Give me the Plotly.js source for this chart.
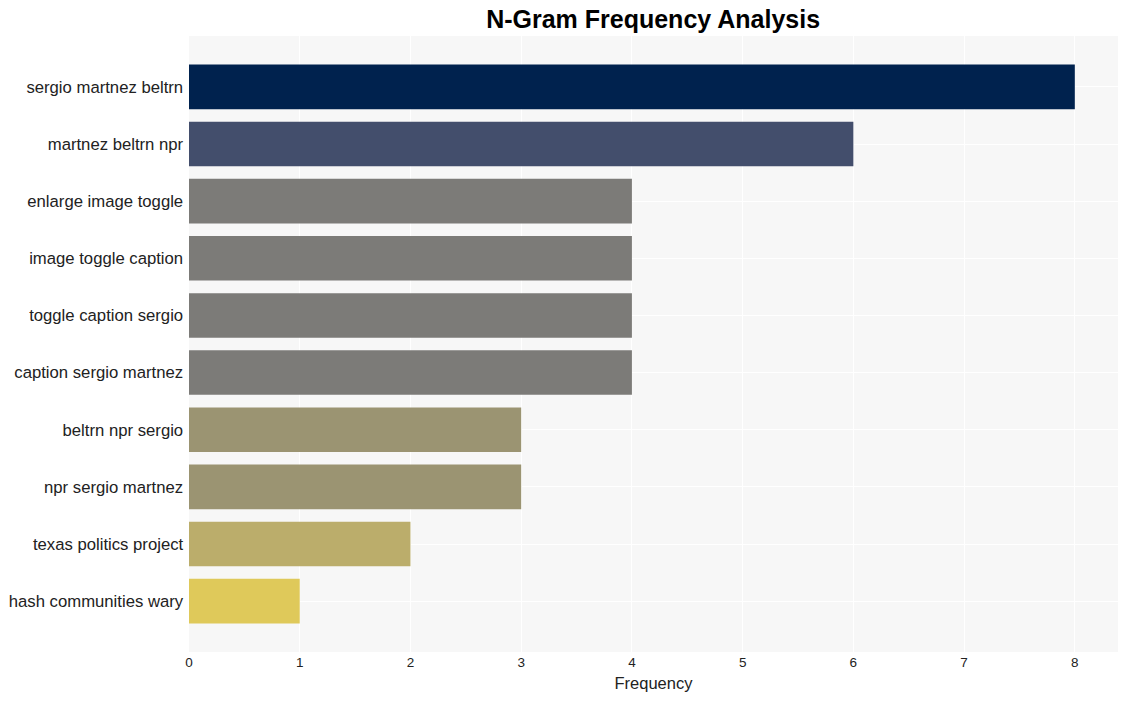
<!DOCTYPE html>
<html>
<head>
<meta charset="utf-8">
<script src="https://cdn.plot.ly/plotly-3.0.1.min.js"></script>
<style>html,body{margin:0;padding:0;background:#fff;}#chart{width:1128px;height:701px;}</style>
</head>
<body>
<div id="chart"></div>
<script>
const categories = [
  "sergio martnez beltrn",
  "martnez beltrn npr",
  "enlarge image toggle",
  "image toggle caption",
  "toggle caption sergio",
  "caption sergio martnez",
  "beltrn npr sergio",
  "npr sergio martnez",
  "texas politics project",
  "hash communities wary"
];
const frequencies = [8, 6, 4, 4, 4, 4, 3, 3, 2, 1];
const barColors = ["#00224e", "#434e6c", "#7c7b78", "#7c7b78", "#7c7b78", "#7c7b78", "#9b9472", "#9b9472", "#bbad6b", "#dfc95a"];
const xTicks = [0, 1, 2, 3, 4, 5, 6, 7, 8];

const trace = {
  type: "bar",
  orientation: "h",
  x: frequencies,
  y: categories,
  marker: {color: barColors},
  width: 0.78,
  hoverinfo: "x+y"
};

const layout = {
  width: 1128,
  height: 701,
  margin: {l: 189, r: 10, t: 36, b: 49},
  paper_bgcolor: "#ffffff",
  plot_bgcolor: "#f7f7f7",
  font: {family: "Liberation Sans, Arial, sans-serif", color: "#222222"},
  title: {
    text: "<b>N-Gram Frequency Analysis</b>",
    font: {size: 25, color: "#000000", family: "Liberation Sans, Arial, sans-serif"},
    x: 0.579, xanchor: "center", y: 0.972, yanchor: "middle"
  },
  xaxis: {
    range: [0, 8.39],
    tickvals: xTicks,
    ticktext: xTicks.map(String),
    gridcolor: "#ffffff",
    gridwidth: 1,
    zeroline: false,
    ticks: "",
    tickfont: {size: 13.5, color: "#222222"},
    title: {text: "Frequency", font: {size: 16.5, color: "#222222"}, standoff: 8}
  },
  yaxis: {
    type: "category",
    categoryorder: "array",
    categoryarray: categories,
    range: [9.89, -0.89],
    gridcolor: "#ffffff",
    gridwidth: 1,
    ticks: "outside",
    ticklen: 1.5,
    tickcolor: "rgba(0,0,0,0)",
    tickfont: {size: 16.7, color: "#222222"},
    automargin: false
  },
  showlegend: false
};

Plotly.newPlot("chart", [trace], layout, {displayModeBar: false});
</script>
</body>
</html>
